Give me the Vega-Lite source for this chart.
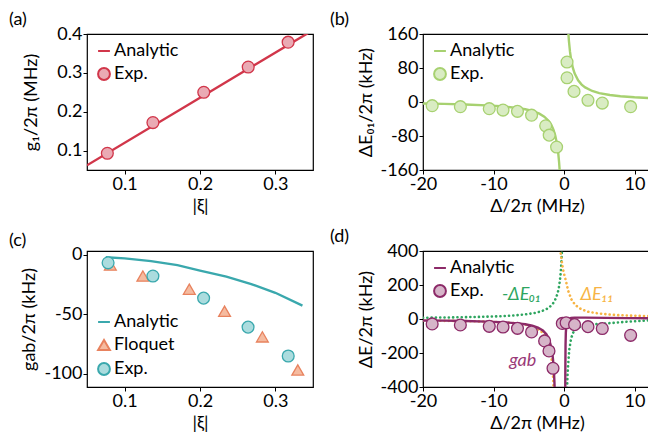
{
  "$schema": "https://vega.github.io/schema/vega-lite/v6.json",
  "padding": {"left": 8, "top": 10, "right": 0, "bottom": 0},
  "config": {
    "font": "Lato",
    "view": {"stroke": "black", "strokeWidth": 1.2},
    "axis": {"domain": false, "grid": false, "tickColor": "black", "tickSize": 4, "tickWidth": 1, "labelFontSize": 18, "labelColor": "black", "labelPadding": 1, "labelFlush": false, "labelOverlap": false, "titleFontSize": 18, "titleFontWeight": "normal", "titleColor": "black", "titleBaseline": "middle"},
    "axisX": {"titleY": 36},
    "legend": {"labelFontSize": 18, "labelColor": "black", "symbolSize": 140, "symbolStrokeWidth": 2, "rowPadding": 4, "padding": 0, "offset": 8, "labelOffset": 1, "title": null},
    "title": {"fontSize": 18, "fontWeight": "normal", "anchor": "start", "frame": "group", "offset": -4, "color": "black"}
  },
  "datasets": {
    "a_line": [
      {"x": 0.05, "y": 0.062, "series": "Analytic"},
      {"x": 0.2, "y": 0.236, "series": "Analytic"},
      {"x": 0.35, "y": 0.41, "series": "Analytic"}
    ],
    "a_pts": [
      {"x": 0.077, "y": 0.093, "series": "Exp."},
      {"x": 0.1375, "y": 0.172, "series": "Exp."},
      {"x": 0.205, "y": 0.25, "series": "Exp."},
      {"x": 0.264, "y": 0.315, "series": "Exp."},
      {"x": 0.317, "y": 0.379, "series": "Exp."}
    ],
    "b_line": [
      {"x": -20, "y": -3.5, "series": "Analytic", "branch": "L"},
      {"x": -17, "y": -4.4, "series": "Analytic", "branch": "L"},
      {"x": -14, "y": -5.8, "series": "Analytic", "branch": "L"},
      {"x": -11, "y": -7.9, "series": "Analytic", "branch": "L"},
      {"x": -9, "y": -10, "series": "Analytic", "branch": "L"},
      {"x": -7, "y": -13.2, "series": "Analytic", "branch": "L"},
      {"x": -5.5, "y": -17, "series": "Analytic", "branch": "L"},
      {"x": -4.5, "y": -21, "series": "Analytic", "branch": "L"},
      {"x": -3.5, "y": -27.4, "series": "Analytic", "branch": "L"},
      {"x": -2.8, "y": -34.5, "series": "Analytic", "branch": "L"},
      {"x": -2.2, "y": -44, "series": "Analytic", "branch": "L"},
      {"x": -1.8, "y": -54, "series": "Analytic", "branch": "L"},
      {"x": -1.5, "y": -65, "series": "Analytic", "branch": "L"},
      {"x": -1.25, "y": -78.6, "series": "Analytic", "branch": "L"},
      {"x": -1.05, "y": -93.8, "series": "Analytic", "branch": "L"},
      {"x": -0.9, "y": -109.6, "series": "Analytic", "branch": "L"},
      {"x": -0.8, "y": -123.4, "series": "Analytic", "branch": "L"},
      {"x": -0.7, "y": -141.2, "series": "Analytic", "branch": "L"},
      {"x": -0.62, "y": -159.5, "series": "Analytic", "branch": "L"},
      {"x": -0.55, "y": -180, "series": "Analytic", "branch": "L"},
      {"x": 0.55, "y": 182, "series": "Analytic", "branch": "R"},
      {"x": 0.6, "y": 167, "series": "Analytic", "branch": "R"},
      {"x": 0.7, "y": 143.4, "series": "Analytic", "branch": "R"},
      {"x": 0.85, "y": 118.3, "series": "Analytic", "branch": "R"},
      {"x": 1.0, "y": 100.7, "series": "Analytic", "branch": "R"},
      {"x": 1.25, "y": 80.8, "series": "Analytic", "branch": "R"},
      {"x": 1.5, "y": 67.5, "series": "Analytic", "branch": "R"},
      {"x": 2.0, "y": 50.9, "series": "Analytic", "branch": "R"},
      {"x": 2.5, "y": 40.9, "series": "Analytic", "branch": "R"},
      {"x": 3.0, "y": 34.3, "series": "Analytic", "branch": "R"},
      {"x": 4.0, "y": 26, "series": "Analytic", "branch": "R"},
      {"x": 5.0, "y": 21, "series": "Analytic", "branch": "R"},
      {"x": 6.5, "y": 16.4, "series": "Analytic", "branch": "R"},
      {"x": 8.0, "y": 13.5, "series": "Analytic", "branch": "R"},
      {"x": 10.0, "y": 11.1, "series": "Analytic", "branch": "R"},
      {"x": 12.4, "y": 9.1, "series": "Analytic", "branch": "R"}
    ],
    "b_pts": [
      {"x": -18.7, "y": -8.6, "series": "Exp."},
      {"x": -14.7, "y": -11, "series": "Exp."},
      {"x": -10.6, "y": -15.7, "series": "Exp."},
      {"x": -8.65, "y": -19, "series": "Exp."},
      {"x": -6.6, "y": -22, "series": "Exp."},
      {"x": -4.6, "y": -31, "series": "Exp."},
      {"x": -2.6, "y": -56, "series": "Exp."},
      {"x": -2.1, "y": -78, "series": "Exp."},
      {"x": -1.05, "y": -106, "series": "Exp."},
      {"x": 0.43, "y": 94, "series": "Exp."},
      {"x": 0.43, "y": 57, "series": "Exp."},
      {"x": 1.42, "y": 25, "series": "Exp."},
      {"x": 3.4, "y": 4, "series": "Exp."},
      {"x": 5.43, "y": -2.5, "series": "Exp."},
      {"x": 9.45, "y": -11, "series": "Exp."}
    ],
    "c_line": [
      {"x": 0.075, "y": -2.2, "series": "Analytic"},
      {"x": 0.1, "y": -3.2, "series": "Analytic"},
      {"x": 0.135, "y": -5.5, "series": "Analytic"},
      {"x": 0.17, "y": -8.8, "series": "Analytic"},
      {"x": 0.2, "y": -13.4, "series": "Analytic"},
      {"x": 0.235, "y": -18.5, "series": "Analytic"},
      {"x": 0.267, "y": -24.5, "series": "Analytic"},
      {"x": 0.3, "y": -32, "series": "Analytic"},
      {"x": 0.336, "y": -42.8, "series": "Analytic"}
    ],
    "c_pts": [
      {"x": 0.081, "y": -8.8, "series": "Floquet"},
      {"x": 0.1242, "y": -18, "series": "Floquet"},
      {"x": 0.1858, "y": -29, "series": "Floquet"},
      {"x": 0.2326, "y": -47.5, "series": "Floquet"},
      {"x": 0.2828, "y": -69, "series": "Floquet"},
      {"x": 0.3298, "y": -96.7, "series": "Floquet"},
      {"x": 0.078, "y": -6.9, "series": "Exp."},
      {"x": 0.1375, "y": -18, "series": "Exp."},
      {"x": 0.2048, "y": -36.5, "series": "Exp."},
      {"x": 0.2638, "y": -60.8, "series": "Exp."},
      {"x": 0.3171, "y": -85, "series": "Exp."}
    ],
    "d_line": [
      {"x": -20, "y": -9, "series": "Analytic", "branch": "L"},
      {"x": -17, "y": -9.5, "series": "Analytic", "branch": "L"},
      {"x": -14, "y": -11.4, "series": "Analytic", "branch": "L"},
      {"x": -11, "y": -15.2, "series": "Analytic", "branch": "L"},
      {"x": -9, "y": -18.5, "series": "Analytic", "branch": "L"},
      {"x": -7, "y": -24, "series": "Analytic", "branch": "L"},
      {"x": -5.5, "y": -31, "series": "Analytic", "branch": "L"},
      {"x": -4.5, "y": -39.7, "series": "Analytic", "branch": "L"},
      {"x": -3.7, "y": -51, "series": "Analytic", "branch": "L"},
      {"x": -3.0, "y": -68, "series": "Analytic", "branch": "L"},
      {"x": -2.5, "y": -90, "series": "Analytic", "branch": "L"},
      {"x": -2.1, "y": -122, "series": "Analytic", "branch": "L"},
      {"x": -1.8, "y": -167, "series": "Analytic", "branch": "L"},
      {"x": -1.6, "y": -222, "series": "Analytic", "branch": "L"},
      {"x": -1.5, "y": -266, "series": "Analytic", "branch": "L"},
      {"x": -1.42, "y": -316, "series": "Analytic", "branch": "L"},
      {"x": -1.36, "y": -369, "series": "Analytic", "branch": "L"},
      {"x": -1.32, "y": -415, "series": "Analytic", "branch": "L"},
      {"x": 0.17, "y": -480, "series": "Analytic", "branch": "R"},
      {"x": 0.19, "y": -300, "series": "Analytic", "branch": "R"},
      {"x": 0.22, "y": -150, "series": "Analytic", "branch": "R"},
      {"x": 0.26, "y": -80, "series": "Analytic", "branch": "R"},
      {"x": 0.32, "y": -45, "series": "Analytic", "branch": "R"},
      {"x": 0.42, "y": -22, "series": "Analytic", "branch": "R"},
      {"x": 0.55, "y": -8, "series": "Analytic", "branch": "R"},
      {"x": 0.75, "y": 2, "series": "Analytic", "branch": "R"},
      {"x": 1.0, "y": 6, "series": "Analytic", "branch": "R"},
      {"x": 1.5, "y": 8, "series": "Analytic", "branch": "R"},
      {"x": 3.0, "y": 8, "series": "Analytic", "branch": "R"},
      {"x": 6.0, "y": 6.5, "series": "Analytic", "branch": "R"},
      {"x": 9.0, "y": 5, "series": "Analytic", "branch": "R"},
      {"x": 12.4, "y": 4, "series": "Analytic", "branch": "R"}
    ],
    "d_e01": [
      {"x": -20, "y": 7.5, "branch": "L"},
      {"x": -16, "y": 9.3, "branch": "L"},
      {"x": -12, "y": 12.4, "branch": "L"},
      {"x": -9, "y": 16.5, "branch": "L"},
      {"x": -7, "y": 21.2, "branch": "L"},
      {"x": -5.5, "y": 26.9, "branch": "L"},
      {"x": -4.2, "y": 35, "branch": "L"},
      {"x": -3.2, "y": 45.7, "branch": "L"},
      {"x": -2.5, "y": 58, "branch": "L"},
      {"x": -2.0, "y": 72, "branch": "L"},
      {"x": -1.6, "y": 89, "branch": "L"},
      {"x": -1.3, "y": 109, "branch": "L"},
      {"x": -1.05, "y": 133, "branch": "L"},
      {"x": -0.85, "y": 161, "branch": "L"},
      {"x": -0.7, "y": 192, "branch": "L"},
      {"x": -0.58, "y": 227, "branch": "L"},
      {"x": -0.48, "y": 268, "branch": "L"},
      {"x": -0.4, "y": 313, "branch": "L"},
      {"x": -0.33, "y": 366, "branch": "L"},
      {"x": -0.28, "y": 417, "branch": "L"},
      {"x": 0.42, "y": -430, "branch": "R"},
      {"x": 0.5, "y": -330, "branch": "R"},
      {"x": 0.6, "y": -260, "branch": "R"},
      {"x": 0.75, "y": -180, "branch": "R"},
      {"x": 1.0, "y": -115, "branch": "R"},
      {"x": 1.3, "y": -80, "branch": "R"},
      {"x": 1.7, "y": -58, "branch": "R"},
      {"x": 2.5, "y": -42, "branch": "R"},
      {"x": 4.0, "y": -32, "branch": "R"},
      {"x": 6.0, "y": -26, "branch": "R"},
      {"x": 9.0, "y": -16, "branch": "R"},
      {"x": 12.4, "y": -7, "branch": "R"}
    ],
    "d_e11": [
      {"x": -20, "y": -10, "branch": "L"},
      {"x": -16, "y": -11, "branch": "L"},
      {"x": -12, "y": -14, "branch": "L"},
      {"x": -9, "y": -19, "branch": "L"},
      {"x": -7, "y": -25, "branch": "L"},
      {"x": -5.5, "y": -33, "branch": "L"},
      {"x": -4.6, "y": -45, "branch": "L"},
      {"x": -3.8, "y": -58, "branch": "L"},
      {"x": -3.0, "y": -80, "branch": "L"},
      {"x": -2.6, "y": -105, "branch": "L"},
      {"x": -2.27, "y": -140, "branch": "L"},
      {"x": -2.0, "y": -175, "branch": "L"},
      {"x": -1.8, "y": -220, "branch": "L"},
      {"x": -1.65, "y": -280, "branch": "L"},
      {"x": -1.56, "y": -334, "branch": "L"},
      {"x": -1.5, "y": -390, "branch": "L"},
      {"x": -1.46, "y": -430, "branch": "L"},
      {"x": -0.53, "y": 410, "branch": "R"},
      {"x": -0.48, "y": 389, "branch": "R"},
      {"x": -0.3, "y": 335, "branch": "R"},
      {"x": -0.14, "y": 292, "branch": "R"},
      {"x": 0.1, "y": 250, "branch": "R"},
      {"x": 0.33, "y": 214, "branch": "R"},
      {"x": 0.6, "y": 165, "branch": "R"},
      {"x": 1.04, "y": 116, "branch": "R"},
      {"x": 1.6, "y": 82, "branch": "R"},
      {"x": 2.46, "y": 57, "branch": "R"},
      {"x": 3.5, "y": 42, "branch": "R"},
      {"x": 4.82, "y": 33, "branch": "R"},
      {"x": 6.5, "y": 26, "branch": "R"},
      {"x": 8.1, "y": 22, "branch": "R"},
      {"x": 10.0, "y": 19, "branch": "R"},
      {"x": 12.4, "y": 17, "branch": "R"}
    ],
    "d_pts": [
      {"x": -18.7, "y": -29, "series": "Exp."},
      {"x": -14.7, "y": -35, "series": "Exp."},
      {"x": -10.6, "y": -43, "series": "Exp."},
      {"x": -8.65, "y": -47, "series": "Exp."},
      {"x": -6.6, "y": -55, "series": "Exp."},
      {"x": -4.6, "y": -76, "series": "Exp."},
      {"x": -2.75, "y": -129, "series": "Exp."},
      {"x": -2.13, "y": -188, "series": "Exp."},
      {"x": -1.56, "y": -290, "series": "Exp."},
      {"x": -0.24, "y": -26, "series": "Exp."},
      {"x": 0.3, "y": -22, "series": "Exp."},
      {"x": 1.5, "y": -33, "series": "Exp."},
      {"x": 3.4, "y": -45, "series": "Exp."},
      {"x": 5.43, "y": -56, "series": "Exp."},
      {"x": 9.45, "y": -96, "series": "Exp."}
    ],
    "d_text": [
      {"x": -6, "y": 139, "label": "-ΔE₀₁"},
      {"x": 4.7, "y": 139, "label": "ΔE₁₁"},
      {"x": -5.85, "y": -248, "label": "gab"}
    ]
  },
  "columns": 2,
  "spacing": {"row": 81, "column": 110},
  "bounds": "flush",
  "resolve": {
    "scale": {"stroke": "independent", "fill": "independent", "shape": "independent", "color": "independent"},
    "legend": {"stroke": "independent", "fill": "independent", "shape": "independent", "color": "independent"}
  },
  "concat": [
    {
      "width": 226, "height": 136,
      "title": {"text": "(a)", "dx": -78},
      "encoding": {
        "x": {"field": "x", "type": "quantitative", "scale": {"domain": [0.05, 0.35], "nice": false, "zero": false}, "axis": {"values": [0.1, 0.2, 0.3], "format": ".1f", "title": "|ξ|"}},
        "y": {"field": "y", "type": "quantitative", "scale": {"domain": [0.05, 0.4], "nice": false, "zero": false}, "axis": {"values": [0.1, 0.2, 0.3, 0.4], "format": ".1f", "title": "g₁/2π (MHz)", "titleX": -56}}
      },
      "layer": [
        {"data": {"name": "a_line"}, "mark": {"type": "line", "clip": true, "strokeWidth": 2.4},
         "encoding": {"stroke": {"field": "series", "type": "nominal", "scale": {"domain": ["Analytic", "Exp."], "range": ["#d1364a", "#d1364a"]}, "legend": {"orient": "top-left", "title": null}}}},
        {"data": {"name": "a_pts"}, "mark": {"type": "point", "filled": true, "opacity": 1, "size": 140, "strokeWidth": 1.3},
         "encoding": {
           "stroke": {"field": "series", "type": "nominal", "scale": {"domain": ["Analytic", "Exp."], "range": ["#d1364a", "#d1364a"]}, "legend": {"orient": "top-left", "title": null}},
           "fill": {"field": "series", "type": "nominal", "scale": {"domain": ["Analytic", "Exp."], "range": ["#d1364a", "#eaaab4"]}, "legend": {"orient": "top-left", "title": null}},
           "shape": {"field": "series", "type": "nominal", "scale": {"domain": ["Analytic", "Exp."], "range": ["stroke", "circle"]}, "legend": {"orient": "top-left", "title": null}}
         }}
      ]
    },
    {
      "width": 228, "height": 136,
      "title": {"text": "(b)", "dx": -93},
      "encoding": {
        "x": {"field": "x", "type": "quantitative", "scale": {"domain": [-20, 12.34], "nice": false, "zero": false}, "axis": {"values": [-20, -10, 0, 10], "title": "Δ/2π (MHz)", "labelExpr": "replace(datum.label, '\u2212', '-')"}},
        "y": {"field": "y", "type": "quantitative", "scale": {"domain": [-160, 160], "nice": false, "zero": false}, "axis": {"values": [-160, -80, 0, 80, 160], "title": "ΔE₀₁/2π (kHz)", "titleX": -57, "labelExpr": "replace(datum.label, '\u2212', '-')"}}
      },
      "layer": [
        {"data": {"name": "b_line"}, "mark": {"type": "line", "clip": true, "strokeWidth": 2.4},
         "encoding": {"detail": {"field": "branch"}, "stroke": {"field": "series", "type": "nominal", "scale": {"domain": ["Analytic", "Exp."], "range": ["#a7d170", "#a7d170"]}, "legend": {"orient": "top-left", "title": null}}}},
        {"data": {"name": "b_pts"}, "mark": {"type": "point", "filled": true, "opacity": 1, "size": 140, "strokeWidth": 1.3},
         "encoding": {
           "stroke": {"field": "series", "type": "nominal", "scale": {"domain": ["Analytic", "Exp."], "range": ["#a7d170", "#a7d170"]}, "legend": {"orient": "top-left", "title": null}},
           "fill": {"field": "series", "type": "nominal", "scale": {"domain": ["Analytic", "Exp."], "range": ["#a7d170", "#d9ecc3"]}, "legend": {"orient": "top-left", "title": null}},
           "shape": {"field": "series", "type": "nominal", "scale": {"domain": ["Analytic", "Exp."], "range": ["stroke", "circle"]}, "legend": {"orient": "top-left", "title": null}}
         }}
      ]
    },
    {
      "width": 226, "height": 136,
      "title": {"text": "(c)", "dx": -78},
      "encoding": {
        "x": {"field": "x", "type": "quantitative", "scale": {"domain": [0.05, 0.35], "nice": false, "zero": false}, "axis": {"values": [0.1, 0.2, 0.3], "format": ".1f", "title": "|ξ|"}},
        "y": {"field": "y", "type": "quantitative", "scale": {"domain": [-111, 3], "nice": false, "zero": false}, "axis": {"values": [-100, -50, 0], "title": "gab/2π (kHz)", "titleX": -58, "labelExpr": "replace(datum.label, '\u2212', '-')"}}
      },
      "layer": [
        {"data": {"name": "c_line"}, "mark": {"type": "line", "clip": true, "strokeWidth": 2.4},
         "encoding": {"stroke": {"field": "series", "type": "nominal", "scale": {"domain": ["Analytic", "Floquet", "Exp."], "range": ["#3aa8ad", "#e8825e", "#3aa8ad"]}, "legend": {"orient": "bottom-left", "title": null}}}},
        {"data": {"name": "c_pts"}, "mark": {"type": "point", "filled": true, "opacity": 1, "size": 140, "strokeWidth": 1.3},
         "encoding": {
           "stroke": {"field": "series", "type": "nominal", "scale": {"domain": ["Analytic", "Floquet", "Exp."], "range": ["#3aa8ad", "#e8825e", "#3aa8ad"]}, "legend": {"orient": "bottom-left", "title": null}},
           "fill": {"field": "series", "type": "nominal", "scale": {"domain": ["Analytic", "Floquet", "Exp."], "range": ["#3aa8ad", "#f5bba0", "#abdcde"]}, "legend": {"orient": "bottom-left", "title": null}},
           "shape": {"field": "series", "type": "nominal", "scale": {"domain": ["Analytic", "Floquet", "Exp."], "range": ["stroke", "triangle-up", "circle"]}, "legend": {"orient": "bottom-left", "title": null}}
         }}
      ]
    },
    {
      "width": 228, "height": 136,
      "title": {"text": "(d)", "dx": -93},
      "encoding": {
        "x": {"field": "x", "type": "quantitative", "scale": {"domain": [-20, 12.34], "nice": false, "zero": false}, "axis": {"values": [-20, -10, 0, 10], "title": "Δ/2π (MHz)", "labelExpr": "replace(datum.label, '\u2212', '-')"}},
        "y": {"field": "y", "type": "quantitative", "scale": {"domain": [-400, 400], "nice": false, "zero": false}, "axis": {"values": [-400, -200, 0, 200, 400], "title": "ΔE/2π (kHz)", "titleX": -57, "labelExpr": "replace(datum.label, '\u2212', '-')"}}
      },
      "layer": [
        {"data": {"name": "d_e01"}, "mark": {"type": "line", "clip": true, "strokeWidth": 2.6, "strokeDash": [0.1, 4.2], "strokeCap": "round", "color": "#2ea55f"},
         "encoding": {"detail": {"field": "branch"}}},
        {"data": {"name": "d_e11"}, "mark": {"type": "line", "clip": true, "strokeWidth": 2.6, "strokeDash": [0.1, 4.2], "strokeCap": "round", "color": "#f7b445"},
         "encoding": {"detail": {"field": "branch"}}},
        {"data": {"name": "d_line"}, "mark": {"type": "line", "clip": true, "strokeWidth": 2.4},
         "encoding": {"detail": {"field": "branch"}, "stroke": {"field": "series", "type": "nominal", "scale": {"domain": ["Analytic", "Exp."], "range": ["#8c2a68", "#8c2a68"]}, "legend": {"orient": "top-left", "title": null}}}},
        {"data": {"name": "d_pts"}, "mark": {"type": "point", "filled": true, "opacity": 1, "size": 140, "strokeWidth": 1.3},
         "encoding": {
           "stroke": {"field": "series", "type": "nominal", "scale": {"domain": ["Analytic", "Exp."], "range": ["#8c2a68", "#8c2a68"]}, "legend": {"orient": "top-left", "title": null}},
           "fill": {"field": "series", "type": "nominal", "scale": {"domain": ["Analytic", "Exp."], "range": ["#8c2a68", "#d6b5c9"]}, "legend": {"orient": "top-left", "title": null}},
           "shape": {"field": "series", "type": "nominal", "scale": {"domain": ["Analytic", "Exp."], "range": ["stroke", "circle"]}, "legend": {"orient": "top-left", "title": null}}
         }},
        {"data": {"name": "d_text"}, "mark": {"type": "text", "fontSize": 18, "fontStyle": "italic", "align": "center", "baseline": "middle"},
         "encoding": {"text": {"field": "label"}, "color": {"field": "label", "type": "nominal", "scale": {"domain": ["-ΔE₀₁", "ΔE₁₁", "gab"], "range": ["#2ea55f", "#f7b445", "#9a3a78"]}, "legend": null}}}
      ]
    }
  ]
}
